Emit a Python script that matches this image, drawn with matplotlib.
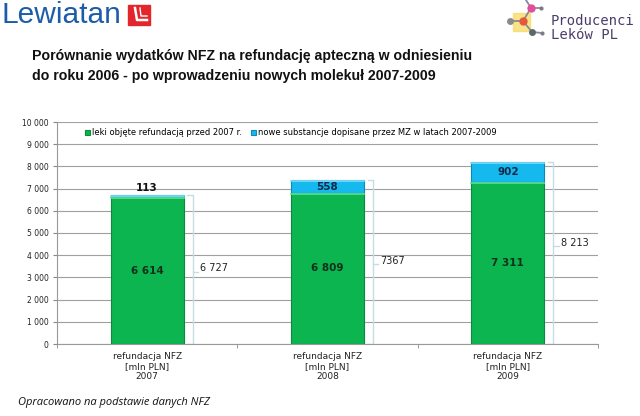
import matplotlib.pyplot as plt
from matplotlib.patches import Rectangle
from matplotlib.lines import Line2D

# data
categories = ['refundacja NFZ\n[mln PLN]\n2007',
              'refundacja NFZ\n[mln PLN]\n2008',
              'refundacja NFZ\n[mln PLN]\n2009']
old_drugs = [6614, 6809, 7311]
new_drugs = [113, 558, 902]
old_labels = ['6 614', '6 809', '7 311']
new_labels = ['113', '558', '902']
totals = [6727, 7367, 8213]
total_labels = ['6 727', '7367', '8 213']
series_names = ['leki objęte refundacją przed 2007 r.',
                'nowe substancje dopisane przez MZ w latach 2007-2009']
yticks = list(range(0, 10001, 1000))

GREEN = '#0DB550'
BLUE = '#16B9EE'


def px(x, y):
    # pixel position (from top-left) to figure coords
    return x / 640, 1 - y / 416


fig = plt.figure(figsize=(6.4, 4.16), dpi=100)
fig.patch.set_facecolor('white')
ax = fig.add_axes([57 / 640, 1 - 344 / 416, 541 / 640, 222 / 416])

x = list(range(len(categories)))
w = 0.405
ax.bar(x, old_drugs, w, color=GREEN, edgecolor='#0A8A3C', linewidth=0.8,
       label=series_names[0], zorder=3)
ax.bar(x, new_drugs, w, bottom=old_drugs, color=BLUE, edgecolor='#0A8AB8',
       linewidth=0.8, label=series_names[1], zorder=3)
# light top edge of each segment
for i in x:
    ax.plot([i - w / 2, i + w / 2], [old_drugs[i] - 40] * 2, color='#5FE08E',
            lw=1.2, zorder=4)
    ax.plot([i - w / 2, i + w / 2], [totals[i] - 40] * 2, color='#7FDDFB',
            lw=1.2, zorder=4)

# value labels
for i in x:
    ax.text(i, old_drugs[i] / 2, old_labels[i], ha='center', va='center',
            fontsize=7.5, fontweight='bold', color='#10301A', zorder=5)
    if new_drugs[i] < 300:
        ax.text(i, totals[i] + 320, new_labels[i], ha='center', va='center',
                fontsize=7.5, fontweight='bold', color='#111111', zorder=5)
    else:
        ax.text(i, old_drugs[i] + new_drugs[i] / 2, new_labels[i], ha='center',
                va='center', fontsize=7.5, fontweight='bold', color='#10284A',
                zorder=5)

# total brackets
bc = '#C5DCE4'
for i in x:
    xb = i + w / 2 + 0.05
    ax.plot([i + w / 2 + 0.02, xb, xb, i + w / 2 + 0.02],
            [totals[i], totals[i], 0, 0], color=bc, lw=1.0, zorder=2)
    ym = totals[i] / 2 + (400 if i == 2 else 0)
    ax.plot([xb, xb + 0.03], [ym - 100, ym - 100], color=bc, lw=1.0, zorder=2)
    ax.text(xb + 0.04, ym + 60, total_labels[i], ha='left', va='center',
            fontsize=7, color='#222222', zorder=5)

ax.set_xlim(-0.5, 2.5)
ax.set_ylim(0, 10000)
ax.set_yticks(yticks)
ax.set_yticklabels(['{:,}'.format(v).replace(',', ' ') for v in yticks],
                   fontsize=5.5, color='#222222')
ax.set_xticks(x)
ax.set_xticklabels(categories, fontsize=6.5, color='#222222', linespacing=1.15)
ax.set_xticks([-0.5, 0.5, 1.5, 2.5], minor=True)
ax.tick_params(axis='x', which='major', length=0, pad=6)
ax.tick_params(axis='x', which='minor', length=3, color='#888888')
ax.tick_params(axis='y', length=3, color='#888888', pad=3)
ax.yaxis.grid(True, color='#A0A0A0', lw=0.8, zorder=0)
ax.set_axisbelow(True)
for s in ['top', 'right']:
    ax.spines[s].set_visible(False)
ax.spines['left'].set_color('#999999')
ax.spines['bottom'].set_color('#999999')

leg = ax.legend(loc='center left', bbox_to_anchor=(0.045, 0.952), ncol=2,
                frameon=False, fontsize=6, handlelength=0.6, handleheight=0.6,
                handletextpad=0.3, columnspacing=1.0, borderaxespad=0)

# title
fig.text(*px(32, 66),
         'Porównanie wydatków NFZ na refundację apteczną w odniesieniu\n'
         'do roku 2006 - po wprowadzeniu nowych molekuł 2007-2009',
         fontsize=10.2, fontweight='bold', color='#111111', ha='left',
         va='center', family=['Liberation Sans', 'DejaVu Sans'],
         linespacing=1.6)

# footnote
fig.text(*px(18, 402), 'Opracowano na podstawie danych NFZ',
         fontsize=8, style='italic', color='#111111', ha='left', va='center',
         family=['Open Sans', 'DejaVu Sans'])

# Lewiatan logo
fig.text(*px(1, 15), 'Lewiatan', fontsize=21.5, color='#1C5CA8',
         ha='left', va='center', family=['Liberation Sans', 'DejaVu Sans'])
fig.patches.append(Rectangle(px(128, 25), 22 / 640, 20 / 416,
                             transform=fig.transFigure, color='#E3262B'))
lx, ly = zip(px(135, 8), px(137, 20), px(147, 20))
fig.lines.append(Line2D(lx, ly, transform=fig.transFigure, color='white', lw=1.8))
lx, ly = zip(px(140, 8), px(141, 16), px(147, 16))
fig.lines.append(Line2D(lx, ly, transform=fig.transFigure, color='white', lw=1.0))

# Producenci logo
fig.patches.append(Rectangle(px(513, 31), 17 / 640, 18 / 416,
                             transform=fig.transFigure, color='#F7DC6A', alpha=0.8))
pts = {'pink': (531, 8), 'red': (523, 21), 'grey': (510, 21), 'dark': (532, 32),
       'tip': (526, 0), 'd1': (541, 8), 'd2': (542, 33)}
for a, b in [('pink', 'red'), ('red', 'grey'), ('red', 'dark'), ('pink', 'tip'),
             ('pink', 'd1'), ('dark', 'd2')]:
    lx, ly = zip(px(*pts[a]), px(*pts[b]))
    fig.lines.append(Line2D(lx, ly, transform=fig.transFigure, color='#8A8A9A',
                            lw=1.3))
for k, c, ms in [('pink', '#E0509A', 6), ('red', '#E35A3A', 6),
                 ('grey', '#8A8A8A', 5), ('dark', '#5A6A6A', 5),
                 ('d1', '#7A7A8A', 3), ('d2', '#7A7A8A', 3)]:
    cx, cy = px(*pts[k])
    fig.lines.append(Line2D([cx], [cy], transform=fig.transFigure, marker='o',
                            markersize=ms, color=c, markeredgewidth=0))
fig.text(*px(551, 28), 'Producenci\nLeków PL', fontsize=10,
         color='#4A3D6A', ha='left', va='center', family='DejaVu Sans Mono',
         linespacing=1.0)

fig.savefig('out.png', dpi=100)
